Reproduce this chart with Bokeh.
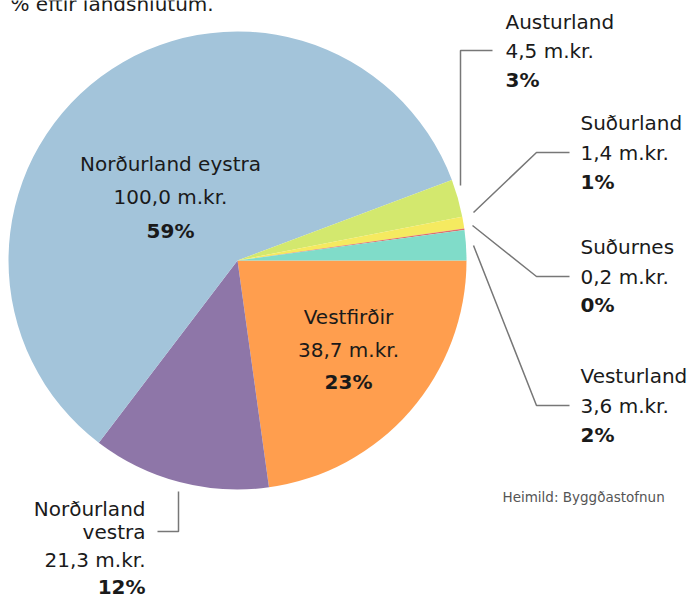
import math
from bokeh.plotting import figure
from bokeh.models import Range1d, ColumnDataSource
from bokeh.core.properties import value
from bokeh.embed import file_html
from bokeh.resources import INLINE

# ---- data ----
regions = ["Vestfirðir", "Norðurland vestra", "Norðurland eystra", "Austurland",
           "Suðurland", "Suðurnes", "Vesturland"]
amounts = [38.7, 21.3, 100.0, 4.5, 1.4, 0.2, 3.6]
amount_labels = ["38,7 m.kr.", "21,3 m.kr.", "100,0 m.kr.", "4,5 m.kr.",
                 "1,4 m.kr.", "0,2 m.kr.", "3,6 m.kr."]
pct_labels = ["23%", "12%", "59%", "3%", "1%", "0%", "2%"]
colors = ["#ff9e4e", "#8e76a8", "#a3c4da", "#d3e86e", "#f5ea60", "#de6f6c", "#80dcc9"]
title_text = "% eftir landshlutum."
source_text = "Heimild: Byggðastofnun"

W, H = 694, 599
FONT = "DejaVu Sans"

def sx(x):
    return x

def sy(y):
    return H - y

p = figure(width=W, height=H, output_backend="svg", toolbar_location=None,
           x_range=Range1d(0, W), y_range=Range1d(0, H), min_border=0,
           outline_line_color=None)
p.axis.visible = False
p.grid.visible = False
p.background_fill_color = "white"
p.border_fill_color = "white"

# ---- pie ----
total = sum(amounts)
starts, ends = [], []
cum = 0.0
for a in amounts:
    f = a / total
    ends.append(-cum * 2 * math.pi)
    starts.append(-(cum + f) * 2 * math.pi)
    cum += f
cx, cy, r = sx(237), sy(260), 229
src = ColumnDataSource(dict(start=starts, end=ends, color=colors, name=regions))
p.wedge(x=cx, y=cy, radius=r, start_angle="start", end_angle="end",
        fill_color="color", line_color=None, source=src)

GRAY = "#777777"
def leader(xs, ys):
    p.line([sx(v) for v in xs], [sy(v) for v in ys], line_color=GRAY, line_width=1.5)

leader([492, 460, 460], [50, 50, 185])          # Austurland
leader([569, 536, 473], [152, 152, 212])        # Suðurland
leader([569, 536, 472], [276, 276, 225])        # Suðurnes
leader([569, 536, 473], [405, 405, 245])        # Vesturland
leader([157, 178, 178], [531, 531, 491])        # Norðurland vestra

def label(x, ys, lines, align, bold_last=True, size="20px", color="#1a1a1a"):
    for i, (yy, t) in enumerate(zip(ys, lines)):
        bold = bold_last and i == len(lines) - 1
        p.text(x=[sx(x)], y=[sy(yy)], text=[t], text_font=value(FONT),
               text_font_size=size, text_align=align, text_baseline="middle",
               text_color=color, text_font_style="bold" if bold else "normal")

# inside labels
label(170, [163, 196, 230], [regions[2], amount_labels[2], pct_labels[2]], "center")
label(348, [316, 349, 381], [regions[0], amount_labels[0], pct_labels[0]], "center")
# outside right labels
label(505, [21, 50, 79], [regions[3], amount_labels[3], pct_labels[3]], "left")
label(580, [122, 152, 181], [regions[4], amount_labels[4], pct_labels[4]], "left")
label(580, [246, 276, 304], [regions[5], amount_labels[5], pct_labels[5]], "left")
label(580, [375, 405, 434], [regions[6], amount_labels[6], pct_labels[6]], "left")
# Norðurland vestra
nv = regions[1].split(" ")
label(145, [508, 531, 559, 586], [nv[0], nv[1], amount_labels[1], pct_labels[1]], "right")

# title (cut at top) and source
p.text(x=[sx(10)], y=[sy(3)], text=[title_text], text_font=value(FONT),
       text_font_size="20px", text_align="left", text_baseline="middle",
       text_color="#1a1a1a")
p.text(x=[sx(502)], y=[sy(496)], text=[source_text], text_font=value(FONT),
       text_font_size="13.5px", text_align="left", text_baseline="middle",
       text_color="#555555")

open("out.html", "w").write(file_html(p, INLINE))
